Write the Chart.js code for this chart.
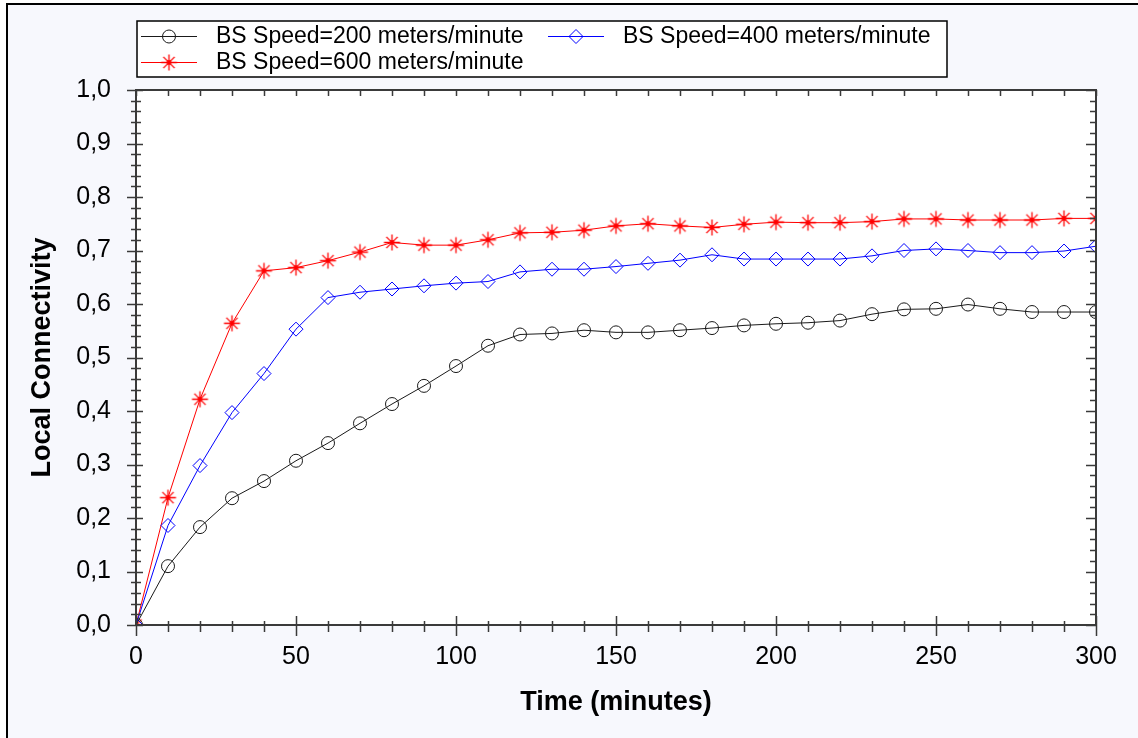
<!DOCTYPE html>
<html>
<head>
<meta charset="utf-8">
<title>Local Connectivity</title>
<script src="https://cdn.jsdelivr.net/npm/chart.js@4.4.0/dist/chart.umd.min.js"></script>
<style>
	html, body { margin: 0; padding: 0; background: #ffffff; }
	#wrap { width: 1138px; height: 738px; }
</style>
</head>
<body>
<div id="wrap"><canvas id="chart" width="1138" height="738"></canvas></div>
<script>
const minutes = [0, 10, 20, 30, 40, 50, 60, 70, 80, 90, 100, 110, 120, 130, 140, 150,
	160, 170, 180, 190, 200, 210, 220, 230, 240, 250, 260, 270, 280, 290, 300];

const speed200 = [0, 0.110, 0.183, 0.237, 0.269, 0.307, 0.340, 0.377, 0.413, 0.447, 0.484,
	0.522, 0.543, 0.545, 0.551, 0.547, 0.547, 0.551, 0.555, 0.560, 0.563,
	0.565, 0.569, 0.581, 0.590, 0.591, 0.599, 0.591, 0.585, 0.585, 0.585];

const speed400 = [0, 0.186, 0.298, 0.397, 0.470, 0.553, 0.612, 0.622, 0.628, 0.634, 0.639,
	0.642, 0.660, 0.665, 0.665, 0.670, 0.676, 0.682, 0.692, 0.684, 0.684,
	0.684, 0.684, 0.690, 0.700, 0.703, 0.700, 0.696, 0.696, 0.699, 0.708];

const speed600 = [0, 0.238, 0.422, 0.564, 0.662, 0.668, 0.681, 0.697, 0.715, 0.710, 0.710,
	0.720, 0.733, 0.734, 0.738, 0.746, 0.750, 0.746, 0.743, 0.749, 0.753,
	0.752, 0.752, 0.754, 0.759, 0.759, 0.757, 0.757, 0.757, 0.760, 0.760];

const seriesLabels = [
	"BS Speed=200 meters/minute",
	"BS Speed=400 meters/minute",
	"BS Speed=600 meters/minute",
];

const xTitle = "Time (minutes)";
const yTitle = "Local Connectivity";

const FONT = "'Liberation Sans', Arial, Helvetica, sans-serif";
const AXIS_COLOR = "#3a3a3a";

// asterisk with a dot in the middle, like the original marker
function asteriskMarker(color, r) {
	const c = document.createElement("canvas");
	const s = Math.ceil(r * 2) + 3;
	c.width = s;
	c.height = s;
	const g = c.getContext("2d");
	const m = s / 2;
	g.strokeStyle = color;
	g.lineWidth = 1.3;
	g.beginPath();
	for (let k = 0; k < 4; k++) {
		const a = (k * Math.PI) / 4;
		g.moveTo(m - r * Math.cos(a), m - r * Math.sin(a));
		g.lineTo(m + r * Math.cos(a), m + r * Math.sin(a));
	}
	g.stroke();
	g.fillStyle = color;
	g.beginPath();
	g.arc(m, m, 2.4, 0, Math.PI * 2);
	g.fill();
	return c;
}

const toPoints = values => values.map((v, i) => ({ x: minutes[i], y: v }));

const frameAndAxes = {
	id: "frameAndAxes",
	beforeDraw(chart) {
		const { ctx, chartArea: a, width, height } = chart;
		ctx.save();
		ctx.fillStyle = "#ffffff";
		ctx.fillRect(0, 0, width, height);
		ctx.fillStyle = "#f7f8fd";
		ctx.fillRect(8, 5, width - 8, height - 5);
		ctx.strokeStyle = "#000000";
		ctx.lineWidth = 2;
		ctx.beginPath();
		ctx.moveTo(7, height);
		ctx.lineTo(7, 4);
		ctx.lineTo(width, 4);
		ctx.stroke();
		ctx.fillStyle = "#ffffff";
		ctx.fillRect(a.left, a.top, a.right - a.left, a.bottom - a.top);
		ctx.restore();
	},
	afterDraw(chart) {
		const { ctx, chartArea: a } = chart;
		const xs = chart.scales.x;
		const ys = chart.scales.y;
		ctx.save();
		ctx.strokeStyle = AXIS_COLOR;
		ctx.lineWidth = 2;
		ctx.beginPath();
		ctx.moveTo(a.left, a.bottom);
		ctx.lineTo(a.left, a.top);
		ctx.lineTo(a.right, a.top);
		ctx.lineTo(a.right, a.bottom);
		ctx.lineTo(a.left, a.bottom);
		ctx.stroke();

		ctx.lineWidth = 1.5;
		ctx.beginPath();
		// y axis ticks: major every 0.1, minor every 0.02
		for (let i = 0; i <= 50; i++) {
			const py = Math.round(ys.getPixelForValue(i / 50)) + 0.5;
			const major = i % 5 === 0;
			ctx.moveTo(a.left - (major ? 9 : 5), py);
			ctx.lineTo(a.left + (major ? 7 : 5), py);
			ctx.moveTo(a.right - (major ? 10 : 6), py);
			ctx.lineTo(a.right, py);
		}
		// x axis ticks: major every 50, minor every 10
		for (let t = 0; t <= 300; t += 10) {
			const px = Math.round(xs.getPixelForValue(t)) + 0.5;
			const major = t % 50 === 0;
			ctx.moveTo(px, a.bottom - (major ? 9 : 4));
			ctx.lineTo(px, a.bottom + (major ? 11 : 7));
			ctx.moveTo(px, a.top);
			ctx.lineTo(px, a.top + 6);
		}
		ctx.stroke();

		// legend box
		ctx.fillStyle = "#ffffff";
		ctx.fillRect(137, 21, 810, 56);
		ctx.strokeStyle = "#000000";
		ctx.lineWidth = 1.5;
		ctx.strokeRect(137, 21, 810, 56);

		const slots = [
			{ x: 141, y: 36 },
			{ x: 548, y: 36 },
			{ x: 141, y: 62 },
		];
		chart.data.datasets.forEach((ds, i) => {
			const s = slots[i];
			ctx.strokeStyle = ds.borderColor;
			ctx.lineWidth = 1;
			ctx.beginPath();
			ctx.moveTo(s.x, s.y + 0.5);
			ctx.lineTo(s.x + 56, s.y + 0.5);
			ctx.stroke();
			ctx.strokeStyle = ds.pointBorderColor;
			ctx.fillStyle = "rgba(0,0,0,0)";
			Chart.helpers.drawPoint(
				ctx,
				{ pointStyle: ds.pointStyle, radius: ds.pointRadius, borderWidth: 1, rotation: 0 },
				s.x + 28,
				s.y + 0.5
			);
			ctx.fillStyle = "#000000";
			ctx.font = `23px ${FONT}`;
			ctx.textAlign = "left";
			ctx.textBaseline = "middle";
			ctx.fillText(ds.label, s.x + 75, s.y + 1);
		});
		ctx.restore();
	},
};

new Chart(document.getElementById("chart"), {
	type: "line",
	data: {
		datasets: [
			{
				label: seriesLabels[0],
				data: toPoints(speed200),
				borderColor: "#1a1a1a",
				borderWidth: 1,
				pointStyle: "circle",
				pointRadius: 6.5,
				pointBorderColor: "#1a1a1a",
				pointBackgroundColor: "rgba(0,0,0,0)",
				pointBorderWidth: 1,
				tension: 0,
				clip: 0,
			},
			{
				label: seriesLabels[1],
				data: toPoints(speed400),
				borderColor: "#0000ff",
				borderWidth: 1,
				pointStyle: "rectRot",
				pointRadius: 7,
				pointBorderColor: "#0000ff",
				pointBackgroundColor: "rgba(0,0,0,0)",
				pointBorderWidth: 1,
				tension: 0,
				clip: 0,
			},
			{
				label: seriesLabels[2],
				data: toPoints(speed600),
				borderColor: "#ff0000",
				borderWidth: 1,
				pointStyle: asteriskMarker("#ff0000", 8),
				pointRadius: 8,
				pointBorderColor: "#ff0000",
				pointBackgroundColor: "#ff0000",
				pointBorderWidth: 1,
				tension: 0,
				clip: 0,
			},
		],
	},
	options: {
		responsive: false,
		animation: false,
		devicePixelRatio: 1,
		layout: { padding: { top: 90, right: 42, left: 0, bottom: 0 } },
		plugins: {
			legend: { display: false },
			tooltip: { enabled: false },
		},
		scales: {
			x: {
				type: "linear",
				min: 0,
				max: 300,
				afterFit: scale => { scale.height = 113; },
				grid: { display: false, drawTicks: false },
				border: { display: false },
				ticks: {
					stepSize: 50,
					padding: 17,
					maxRotation: 0,
					color: "#000000",
					font: { family: FONT, size: 25 },
				},
				title: {
					display: true,
					text: xTitle,
					color: "#000000",
					font: { family: FONT, size: 27, weight: "bold" },
					padding: { top: 0, bottom: 19 },
				},
			},
			y: {
				min: 0,
				max: 1,
				afterFit: scale => { scale.width = 136; },
				grid: { display: false, drawTicks: false },
				border: { display: false },
				ticks: {
					stepSize: 0.1,
					padding: 25,
					color: "#000000",
					font: { family: FONT, size: 25 },
					callback: value => value.toFixed(1).replace(".", ","),
				},
				title: {
					display: true,
					text: yTitle,
					color: "#000000",
					font: { family: FONT, size: 27, weight: "bold" },
					padding: { top: 26, bottom: 0 },
				},
			},
		},
	},
	plugins: [frameAndAxes],
});
</script>
</body>
</html>
